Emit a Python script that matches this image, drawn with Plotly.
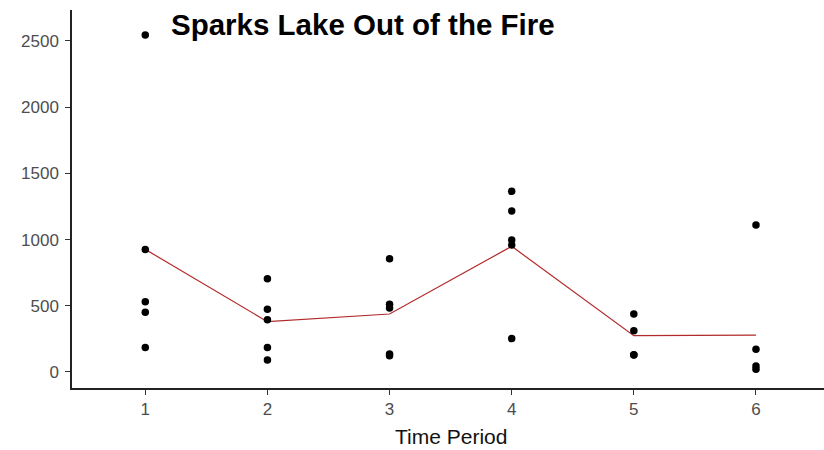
import plotly.graph_objects as go

# Observations per time period
period = [1, 1, 1, 1, 1,
          2, 2, 2, 2, 2,
          3, 3, 3, 3, 3,
          4, 4, 4, 4, 4,
          5, 5, 5, 5,
          6, 6, 6, 6]
count = [2545, 926, 531, 451, 184,
         705, 473, 395, 184, 91,
         856, 511, 483, 136, 123,
         1365, 1216, 997, 960, 252,
         438, 312, 131, 128,
         1110, 171, 45, 20]

# Mean per period (red summary line)
periods = [1, 2, 3, 4, 5, 6]
period_mean = [926, 380, 438, 949, 274, 279]

tick_vals_y = [0, 500, 1000, 1500, 2000, 2500]

fig = go.Figure()

fig.add_trace(go.Scatter(
    x=periods, y=period_mean, mode="lines",
    line=dict(color="#B22A2A", width=1.2),
    hoverinfo="skip", showlegend=False,
))

fig.add_trace(go.Scatter(
    x=period, y=count, mode="markers",
    marker=dict(color="black", size=7.5),
    showlegend=False,
))

axis_font = dict(family="Liberation Sans, Arial, sans-serif", size=17, color="#4D4D4D")

fig.update_layout(
    width=824, height=450,
    margin=dict(l=72, r=0, t=10, b=62),
    paper_bgcolor="white", plot_bgcolor="white",
    font=dict(family="Liberation Sans, Arial, sans-serif"),
    xaxis=dict(
        range=[0.4, 6.557],
        tickmode="array", tickvals=periods, ticktext=[str(p) for p in periods],
        showgrid=False, zeroline=False,
        showline=True, linecolor="#222222", linewidth=1.5,
        ticks="outside", ticklen=5, tickcolor="#333333", tickwidth=1,
        tickfont=axis_font,
    ),
    yaxis=dict(
        range=[-121, 2734],
        tickmode="array", tickvals=tick_vals_y,
        showgrid=False, zeroline=False,
        showline=True, linecolor="#222222", linewidth=1.5,
        ticks="outside", ticklen=5, tickcolor="#333333", tickwidth=1,
        tickfont=axis_font, ticklabelstandoff=3,
    ),
    annotations=[
        dict(
            text="<b>Sparks Lake Out of the Fire</b>",
            xref="x", yref="paper",
            x=1.195, y=0.962, xanchor="left", yanchor="middle",
            showarrow=False,
            font=dict(family="Liberation Sans, Arial, sans-serif", size=29.5, color="black"),
        ),
        dict(
            text="Time Period",
            xref="x", yref="paper",
            x=3.5, y=-0.1296, xanchor="center", yanchor="middle",
            showarrow=False,
            font=dict(family="Liberation Sans, Arial, sans-serif", size=21, color="#111111"),
        ),
    ],
)

fig.write_html("out.html")
